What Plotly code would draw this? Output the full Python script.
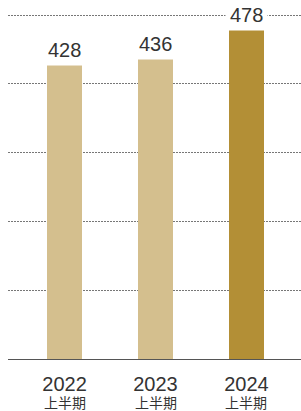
import plotly.graph_objects as go

categories = ["2022", "2023", "2024"]
sub_labels = ["上半期", "上半期", "上半期"]
values = [428, 436, 478]
colors = ["#D4BF8E", "#D4BF8E", "#B38F36"]
y_ticks = [0, 100, 200, 300, 400, 500]

FONT = "Liberation Sans, Arial, sans-serif"
CJK = "Noto Sans CJK JP, sans-serif"

fig = go.Figure()
fig.add_trace(go.Bar(
    x=list(range(len(categories))), y=values,
    marker=dict(color=colors, line=dict(width=0)),
    width=0.385, hoverinfo="skip",
))

for i, v in enumerate(values):
    fig.add_annotation(x=i, y=v, xref="x", yref="y", text=str(v),
                       showarrow=False, yanchor="bottom", yshift=-1,
                       bgcolor="white", borderpad=4,
                       font=dict(family=FONT, size=20, color="#333333"))
for i, s in enumerate(sub_labels):
    fig.add_annotation(x=i, y=0, xref="x", yref="paper", text=s,
                       showarrow=False, yanchor="bottom", yshift=-55,
                       font=dict(family=CJK, size=14, color="#333333"))

fig.update_layout(
    width=301, height=411,
    margin=dict(l=8, r=0, t=14, b=52, autoexpand=False),
    paper_bgcolor="white", plot_bgcolor="white",
    showlegend=False, bargap=0,
    xaxis=dict(range=[-0.621, 2.599], tickvals=list(range(len(categories))),
               ticktext=categories, showgrid=False, zeroline=False,
               showline=False, ticks="", ticklabelstandoff=11, automargin=False,
               tickfont=dict(family=FONT, size=20, color="#333333")),
    yaxis=dict(range=[0, 501.5], tickvals=y_ticks, showticklabels=False,
               showgrid=True, gridcolor="#777777", gridwidth=1,
               griddash="2px,1px", zeroline=True, zerolinecolor="#555555",
               zerolinewidth=1, ticks="", automargin=False),
)

fig.write_html("out.html", config={"displayModeBar": False},
               post_script="document.body.style.margin='0';document.body.style.overflow='hidden';")
